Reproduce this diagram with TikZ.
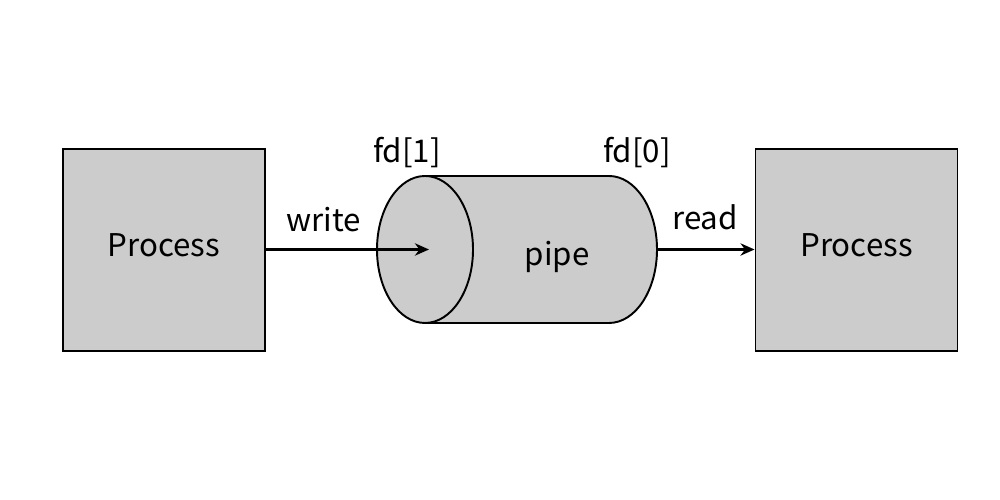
\documentclass[tikz,border=0pt]{standalone}
\usepackage{fontspec}
\setmainfont{Noto Sans CJK SC}
\usetikzlibrary{arrows.meta}
\begin{document}
\begin{tikzpicture}[
  procbox/.style={draw=black, line width=1.1pt, fill=black!20, minimum width=4.04cm, minimum height=4.04cm, inner sep=0pt, text height=0.46cm, text depth=0.20cm, font=\fontsize{17.8}{20}\selectfont},
  lbl/.style={font=\fontsize{17.8}{20}\selectfont, inner sep=0pt},
  conn/.style={line width=1.7pt, -{Stealth[length=8pt,width=7pt]}}
]
\useasboundingbox (0,0) rectangle (20,10);
\node[procbox] (p1) at (3.28,5.0) {Process};
\node[procbox] (p2) at (17.13,5.0) {Process};
% cylinder body
\fill[black!20] (8.50,6.48) -- (12.18,6.48) arc[start angle=90,end angle=-90,x radius=0.96cm,y radius=1.47cm] -- (8.50,3.54) arc[start angle=-90,end angle=-270,x radius=0.96cm,y radius=1.47cm] -- cycle;
\draw[line width=1.1pt] (8.50,6.48) -- (12.18,6.48) arc[start angle=90,end angle=-90,x radius=0.96cm,y radius=1.47cm] -- (8.50,3.54);
\draw[line width=1.1pt] (8.50,5.01) ellipse[x radius=0.96cm,y radius=1.47cm];
\coordinate (wend) at (8.58,5.01);
\coordinate (pipeR) at (13.14,5.01);
\node[lbl] (pipe) at (11.14,4.87) {pipe};
\node[lbl] (fd1) at (8.14,6.95) {fd[1]};
\node[lbl] (fd0) at (12.74,6.95) {fd[0]};
\draw[conn] (p1.east |- wend) -- (wend);
\draw[conn] (pipeR) -- (p2.west |- pipeR);
\node[lbl] (w) at (6.48,5.60) {write};
\node[lbl] (r) at (14.10,5.66) {read};
\end{tikzpicture}
\end{document}
